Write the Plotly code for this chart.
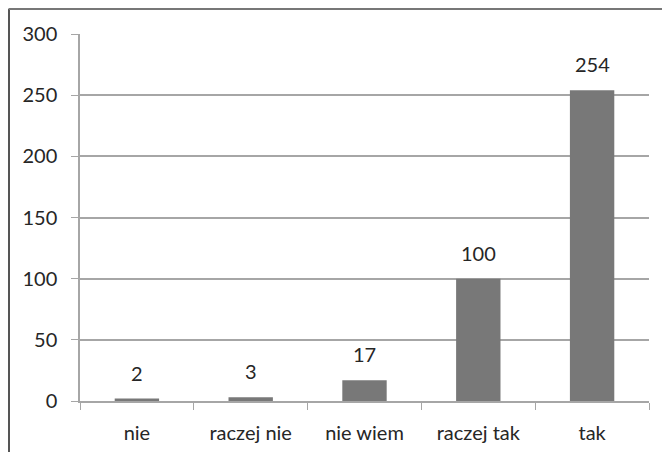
import plotly.graph_objects as go

categories = ["nie", "raczej nie", "nie wiem", "raczej tak", "tak"]
values = [2, 3, 17, 100, 254]
y_ticks = [0, 50, 100, 150, 200, 250, 300]

font_family = "Lato"
font_size = 20
text_color = "#262626"
grid_color = "#a6a6a6"

fig = go.Figure(
    go.Bar(
        x=categories,
        y=values,
        marker=dict(color="#787878", line=dict(width=0)),
        width=0.39,
    )
)

# page body has an 8px margin, so positions are offset by -8
off = 8
left_px, right_px, top_px, bottom_px = 80 - off, 649 - off, 34 - off, 401 - off
W, H = 670, 452
pw = right_px - left_px
ph = bottom_px - top_px
frame_x = (0.75 - left_px) / pw
frame_y = (bottom_px - 0.75) / ph

annotations = [
    dict(x=c, y=v, text=str(v), showarrow=False, yanchor="middle", yshift=26,
         font=dict(family=font_family, size=font_size, color=text_color))
    for c, v in zip(categories, values)
]

fig.update_layout(
    width=W,
    height=H,
    margin=dict(l=left_px, r=W - right_px, t=top_px, b=H - bottom_px, pad=0),
    paper_bgcolor="white",
    plot_bgcolor="white",
    showlegend=False,
    font=dict(family=font_family, size=font_size, color=text_color),
    annotations=annotations,
    xaxis=dict(
        showline=True,
        linecolor=grid_color,
        linewidth=1.5,
        ticks="outside",
        tickson="boundaries",
        ticklen=7,
        tickcolor=grid_color,
        showgrid=False,
        ticklabelstandoff=13,
        tickfont=dict(family=font_family, size=font_size, color=text_color),
    ),
    yaxis=dict(
        range=[0, 300],
        tickvals=y_ticks,
        showline=True,
        linecolor=grid_color,
        linewidth=1.5,
        ticks="outside",
        ticklen=7,
        tickcolor=grid_color,
        showgrid=True,
        gridcolor=grid_color,
        gridwidth=1.5,
        zeroline=False,
        ticklabelstandoff=10,
        tickfont=dict(family=font_family, size=font_size, color=text_color),
    ),
    shapes=[
        dict(type="line", xref="paper", yref="paper", x0=frame_x, x1=frame_x,
             y0=-0.5, y1=frame_y, line=dict(color="#555555", width=2.5)),
        dict(type="line", xref="paper", yref="paper", x0=frame_x, x1=1.5,
             y0=frame_y, y1=frame_y, line=dict(color="#777777", width=2.5)),
    ],
)

fig.write_html("out.html")
